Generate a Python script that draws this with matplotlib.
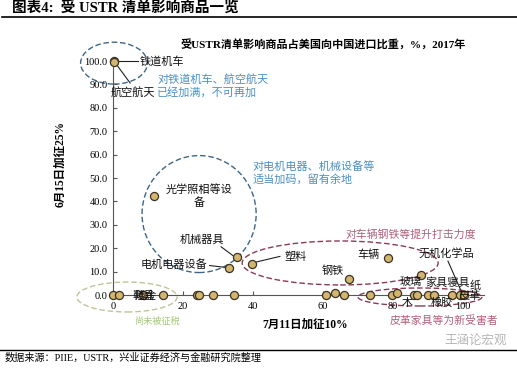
import numpy as np
import matplotlib.pyplot as plt
from matplotlib.patches import Ellipse

plt.rcParams['font.family'] = ['Liberation Serif', 'Noto Sans CJK SC', 'DejaVu Sans']

# 受USTR清单影响商品占美国向中国进口比重（%，2017年）
# x: 7月11日加征10%清单, y: 6月15日加征25%清单
xs = [0.2, 0.4, 11.7, 35.3, 33.2, 39.6, 78.5, 67.4, 88.1,
      0.1, 1.8, 8.7, 14.2, 24.1, 24.5, 28.5, 34.7, 60.8, 63.5, 66.0, 73.4,
      79.6, 81.2, 85.9, 86.8, 90.1, 91.7, 96.9, 99.1, 100.4]
ys = [100.0, 99.8, 42.3, 16.1, 11.5, 13.1, 15.7, 7.0, 8.7,
      0.0, 0.0, 0.0, 0.0, 0.0, 0.2, 0.0, 0.0, 0.0, 0.8, 0.0, 0.0,
      0.0, 0.8, 0.0, 0.0, 0.0, 0.0, 0.0, 0.0, 0.0]

yticks = [0, 10, 20, 30, 40, 50, 60, 70, 80, 90, 100]
xticks = [0, 20, 40, 60, 80, 100]

BLUE_TXT = '#4a90c2'
BLUE_LINE = '#3d6688'
RED_TXT = '#b0607a'
RED_LINE = '#8a3a55'
GREEN_TXT = '#a3c877'
OLIVE_LINE = '#c2c29a'

fig = plt.figure(figsize=(5.17, 3.69), dpi=100)
ax = fig.add_axes([0.1373, 0.1371, 0.8395, 0.7482])
ax.set_xlim(-12, 112)
ax.set_ylim(-10, 108)

for s in ['top', 'right']:
    ax.spines[s].set_visible(False)
ax.spines['left'].set_position(('data', 0))
ax.spines['bottom'].set_position(('data', 0))
ax.spines['left'].set_bounds(0, 100)
ax.spines['bottom'].set_bounds(0, 106)
for s in ['left', 'bottom']:
    ax.spines[s].set_color('#555555')
    ax.spines[s].set_linewidth(0.8)

ax.set_yticks(yticks)
ax.set_yticklabels(['%.1f' % v for v in yticks])
ax.set_xticks(xticks)
ax.set_xticklabels([str(v) for v in xticks])
ax.tick_params(axis='y', direction='in', length=3, pad=4, labelsize=7.5, color='#555555')
ax.tick_params(axis='x', direction='in', length=3, pad=5, labelsize=7.5, color='#555555')

# 圈注
def ell(cx, cy, w, h, col, lw=1.0):
    e = Ellipse((cx, cy), w, h, fill=False, ls=(0, (4, 2)), ec=col, lw=lw,
                clip_on=False, zorder=1)
    ax.add_patch(e)

ell(0.3, 99.1, 19.1, 17.9, BLUE_LINE)
ell(24.6, 34.6, 32.6, 50.0, BLUE_LINE)
ell(64.9, 13.7, 56.0, 18.8, RED_LINE)
ell(87.7, -0.85, 35.4, 7.7, RED_LINE)
ell(4.0, -0.85, 28.6, 12.8, OLIVE_LINE)

ax.scatter(xs, ys, s=34, c='#d4b56e', edgecolors='#3b3326', linewidths=0.9,
           zorder=3, clip_on=False)

# 商品标签
lab = dict(fontsize=8, color='#111111', zorder=5,
           family=['Noto Sans CJK SC', 'DejaVu Sans'])
ax.text(7.7, 99.6, '铁道机车', ha='left', va='center', **lab)
ax.plot([0.5, 7.2], [100, 100], color='#222222', lw=0.8, zorder=2)
ax.text(5.6, 86.8, '航空航天', ha='center', va='center', **lab)
ax.plot([0.5, 4.9], [99.5, 90.6], color='#222222', lw=0.8, zorder=2)
ax.text(24.6, 42.3, '光学照相等设\n备', ha='center', va='center', linespacing=1.3, **lab)
ax.text(25.3, 23.5, '机械器具', ha='center', va='center', **lab)
ax.plot([30.9, 34.3], [20.6, 16.8], color='#222222', lw=0.8, zorder=2)
ax.text(26.9, 13.2, '电机电器设备', ha='right', va='center', **lab)
ax.plot([27.6, 32.2], [12.6, 11.8], color='#222222', lw=0.8, zorder=2)
ax.text(49.1, 16.2, '塑料', ha='left', va='center', **lab)
ax.plot([40.6, 47.7], [14.0, 16.5], color='#222222', lw=0.8, zorder=2)
ax.text(62.9, 10.3, '钢铁', ha='center', va='center', **lab)
ax.text(72.9, 17.1, '车辆', ha='center', va='center', **lab)
ax.text(95.1, 17.9, '无机化学品', ha='center', va='center', **lab)
ax.plot([95.7, 99.7], [14.5, 0.9], color='#222222', lw=0.8, zorder=4)
ax.text(85.1, 5.6, '玻璃', ha='center', va='center', **lab)
ax.text(95.7, 5.6, '家具寝具', ha='center', va='center', **lab)
ax.text(103.6, 4.2, '纸', ha='center', va='center', **lab)
ax.text(102.0, -0.4, '皮革', ha='center', va='center', **lab)
ax.text(84.0, -3.2, '木', ha='center', va='center', **lab)
ax.text(93.8, -3.2, '橡胶', ha='center', va='center', **lab)
ax.text(8.9, -0.4, '鞋具', ha='center', va='center', **lab)
ax.text(9.3, -0.2, '贱金', ha='center', va='center', **lab)

# 说明文字
ax.text(12.6, 89.5, '对铁道机车、航空航天\n已经加满，不可再加', ha='left', va='center',
        fontsize=8, color=BLUE_TXT, linespacing=1.2)
ax.text(40.0, 52.0, '对电机电器、机械设备等\n适当加码，留有余地', ha='left', va='center',
        fontsize=8, color=BLUE_TXT, linespacing=1.2)
ax.text(66.3, 26.1, '对车辆钢铁等提升打击力度', ha='left', va='center',
        fontsize=7.8, color=RED_TXT)
ax.text(94.6, -10.7, '皮革家具等为新受害者', ha='center', va='center',
        fontsize=7.8, color=RED_TXT, clip_on=False)
ax.text(12.9, -11.5, '尚未被征税', ha='center', va='center',
        fontsize=6.6, color=GREEN_TXT, clip_on=False)

# 标题、轴标题、来源
fig.text(12 / 517, 1 - 9 / 369, '图表4:  受 USTR 清单影响商品一览', ha='left', va='center',
         fontsize=10.5, fontweight='bold')
fig.add_artist(plt.Line2D([2 / 517, 1], [1 - 17 / 369] * 2, color='black', lw=1.2))
fig.text(323 / 517, 1 - 45 / 369, '受USTR清单影响商品占美国向中国进口比重，%，2017年',
         ha='center', va='center', fontsize=8, fontweight='bold')
fig.text(60 / 517, 1 - 164 / 369, '6月15日加征25%', rotation=90, ha='center', va='center',
         fontsize=8.3, fontweight='bold')
fig.text(305 / 517, 1 - 325 / 369, '7月11日加征10%', ha='center', va='center',
         fontsize=8.3, fontweight='bold')
fig.add_artist(plt.Line2D([0, 1], [1 - 350 / 369] * 2, color='black', lw=1.0))
fig.text(5 / 517, 1 - 358 / 369, '数据来源：PIIE，USTR，兴业证券经济与金融研究院整理',
         ha='left', va='center', fontsize=7.3)
fig.text(507 / 517, 1 - 342 / 369, '王涵论宏观', ha='right', va='center',
         fontsize=9, color='#b5b5b5')

plt.savefig('out.png', dpi=100)
